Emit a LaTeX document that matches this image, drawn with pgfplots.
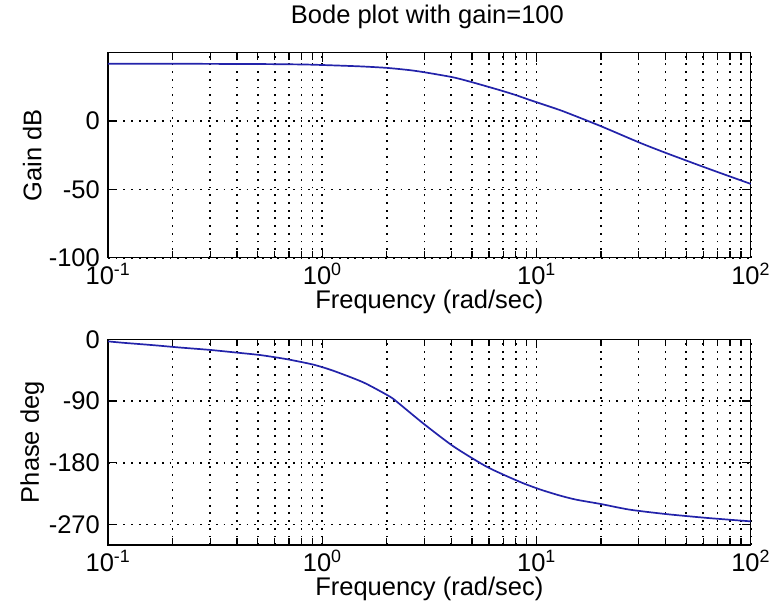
\documentclass[border=0pt]{standalone}
\usepackage{fontspec}
\setmainfont{Liberation Sans}
\usepackage{pgfplots}
\pgfplotsset{compat=1.18}
\definecolor{bodeblue}{RGB}{35,35,170}
\pgfplotsset{
  bodestyle/.style={
    scale only axis, width=642.7pt,
    xmin=0.1, xmax=100,
    xtick={0.1,1,10,100},
    xticklabels={10\textsuperscript{-1},10\textsuperscript{0},10\textsuperscript{1},10\textsuperscript{2}},
    minor xtick={0.2,0.3,0.4,0.5,0.6,0.7,0.8,0.9,2,3,4,5,6,7,8,9,20,30,40,50,60,70,80,90},
    tick align=inside,
    major tick length=9pt, minor tick length=7pt,
    xmajorgrids, xminorgrids, ymajorgrids,
    major grid style={black, line width=1.6pt, dash pattern=on 1.8pt off 5.9pt},
    minor grid style={black, line width=1.6pt, dash pattern=on 1.8pt off 5.9pt},
    axis line style={black, line width=1.5pt},
    every tick/.style={black, line width=1.3pt},
    tick label style={font=\fontsize{25.5}{30}\selectfont},
    label style={font=\fontsize{25.5}{30}\selectfont},
    xticklabel style={anchor=north, inner sep=0pt, yshift=-5pt},
    yticklabel style={anchor=east, inner sep=0pt, xshift=-8pt},
    xlabel={Frequency (rad/sec)},
    clip=false,
  }
}
\begin{document}
\fontsize{25.5}{30}\selectfont
\begin{tikzpicture}
\useasboundingbox (0pt,0pt) rectangle (775pt,-605pt);
\begin{semilogxaxis}[bodestyle, at={(108pt,-52.7pt)}, anchor=north west, height=205pt,
  ymin=-100, ymax=50, ytick={-100,-50,0}, yticklabels={-100,-50,0},
  ylabel={Gain dB},
  ylabel style={at={(axis description cs:-0.118,0.5)}, anchor=center},
  xlabel style={at={(axis description cs:0.5,-0.2146)}, anchor=center},
  title={Bode plot with gain=100},
  title style={at={(axis description cs:0.497,1.146)}, anchor=center, font=\fontsize{25.5}{30}\selectfont},
]
\addplot[bodeblue, line width=1.7pt, smooth, tension=0.4] coordinates {
(0.1,41.9) (0.2,41.9) (0.5,41.7) (0.8,41.4) (1,41) (1.5,40) (2,38.9)
(2.57,37.2) (3.02,35.6) (4.08,32) (5.06,28.2) (6.78,22.5) (8,19)
(9.35,15.3) (11.6,10.4) (13.4,7) (19.8,-3.5) (30.5,-16) (40.6,-23.6)
(62.5,-34.5) (100,-46)
};
\end{semilogxaxis}
\begin{semilogxaxis}[bodestyle, at={(108pt,-339.3pt)}, anchor=north west, height=205.7pt,
  ymin=-300, ymax=0, ytick={-270,-180,-90,0}, yticklabels={-270,-180,-90,0},
  ylabel={Phase deg},
  ylabel style={at={(axis description cs:-0.118,0.5)}, anchor=center},
  xlabel style={at={(axis description cs:0.5,-0.214)}, anchor=center},
]
\addplot[bodeblue, line width=1.7pt, smooth, tension=0.4] coordinates {
(0.1,-3) (0.117,-5) (0.162,-8.5) (0.217,-12) (0.3,-15.5) (0.399,-19.4)
(0.514,-23) (0.684,-29) (0.911,-37) (1.13,-46) (1.56,-63) (2.08,-84)
(2.31,-95) (2.97,-123) (4.09,-156) (5.87,-186) (8.38,-208) (10.4,-219)
(12.9,-228) (15.4,-234) (19.8,-240) (27.3,-248.5) (40.6,-255)
(62.5,-260.5) (100,-265.5)
};
\end{semilogxaxis}
\end{tikzpicture}
\end{document}
